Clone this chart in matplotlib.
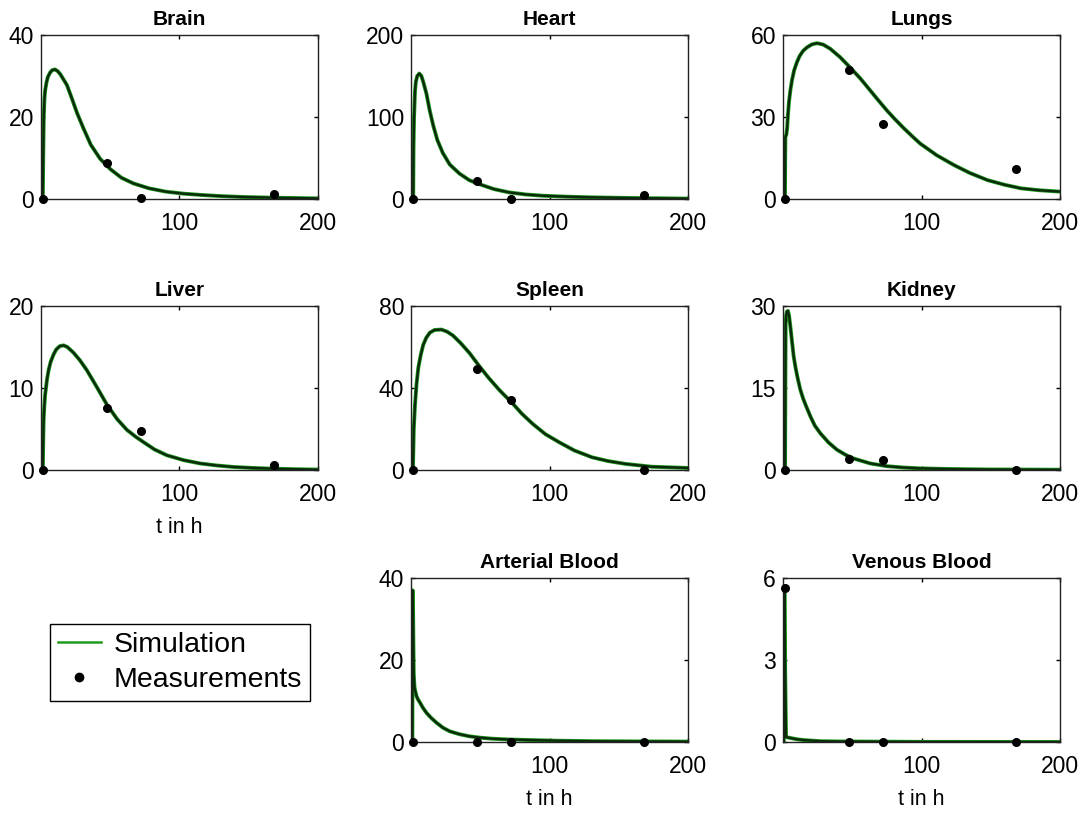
import numpy as np
import matplotlib.pyplot as plt
from matplotlib.lines import Line2D

plt.rcParams["font.family"] = ["Liberation Sans", "DejaVu Sans"]

# measurement times (h)
t_meas = [1.5, 48, 72, 168]

# --- simulated curves ---
t_brain = [1.3, 1.6, 2.0, 2.5, 3.0, 4.0, 5.0, 6.5, 8.0, 10, 12, 14, 16, 18.7, 22, 26, 30.7, 36, 42.7, 50, 58, 66.7, 78, 90, 103, 115, 130, 145, 163, 180, 200]
y_brain = [0, 10, 20, 24.5, 26.5, 28.5, 29.8, 30.8, 31.4, 31.6, 31.2, 30.4, 29.3, 27.8, 24.8, 21, 17.2, 13.2, 9.8, 7.3, 5.2, 3.8, 2.6, 1.8, 1.3, 1.0, 0.7, 0.5, 0.35, 0.25, 0.15]
m_brain = [0, 8.9, 0.2, 1.3]

t_heart = [1.6, 1.8, 2.2, 2.9, 3.5, 4.5, 6.0, 7.5, 9.0, 11.2, 13.5, 16, 19, 23, 28, 35, 42, 49.5, 60, 71, 83, 95, 113, 131, 160, 200]
y_heart = [0, 60, 100, 132, 143, 150, 153, 150, 142, 128, 108, 90, 72, 56, 42, 31, 23, 18, 12, 8, 5.5, 4, 2.8, 2, 1.2, 0.5]
m_heart = [0, 22, 0.5, 4.5]

t_lungs = [1.4, 1.7, 2.4, 3.0, 3.6, 4.3, 5.3, 6.5, 8.0, 10, 12, 14.5, 17.4, 21, 24.6, 29, 34, 41, 48.7, 56, 63, 69, 75, 81, 87, 93, 99, 111, 123.5, 135, 147.7, 160, 171.8, 185, 200]
y_lungs = [0, 22.7, 23.5, 26, 31, 35.5, 39.7, 43.5, 47, 50, 52.3, 54.2, 55.5, 56.6, 57, 56.5, 55, 52, 48, 44, 39.7, 36, 32.4, 29.1, 26, 23.1, 20.3, 16, 12.4, 9.5, 6.9, 5.2, 3.9, 3.2, 2.7]
m_lungs = [0, 47.3, 27.3, 10.8]

t_liver = [1.3, 1.6, 1.9, 2.4, 3.0, 4.3, 5.5, 7.0, 9.1, 11, 13.5, 16.3, 19, 23.5, 28, 33, 40, 47.5, 55, 62, 68, 74, 82, 90.8, 103, 114.8, 127, 139, 153, 167.6, 183, 200]
y_liver = [0, 3.5, 6.1, 7.8, 9.2, 11, 12.2, 13.2, 14.1, 14.7, 15.1, 15.2, 15.0, 14.3, 13.4, 12.2, 10.2, 8.0, 6.2, 4.9, 4.1, 3.4, 2.5, 1.8, 1.2, 0.8, 0.55, 0.37, 0.25, 0.16, 0.1, 0.05]
m_liver = [0, 7.6, 4.8, 0.6]

t_spleen = [1.4, 2.0, 2.9, 4.0, 5.3, 7.0, 8.8, 11, 13.6, 17, 22, 26, 30.3, 36, 42.3, 49.5, 56, 63.8, 73.3, 80, 87.7, 97, 106.8, 118, 130.7, 142, 154.6, 173.7, 200]
y_spleen = [0, 20, 32, 42, 50, 56, 61, 64.5, 67, 68.3, 68.5, 67.5, 65.6, 61.8, 57, 50.5, 45, 39, 32.5, 27.5, 22.6, 17.5, 13.6, 9.5, 6.2, 4.4, 3.0, 1.6, 1.0]
m_spleen = [0, 49.5, 34, 0.2]

t_kidney = [1.5, 1.7, 1.9, 2.3, 2.8, 3.6, 4.4, 5.3, 6.5, 7.7, 9.0, 10.5, 12.5, 14.5, 16.5, 19.8, 23, 27, 33, 39, 45, 51, 63, 75, 87, 99, 120, 148, 200]
y_kidney = [0, 15, 26.5, 28.3, 29.0, 29.1, 28.2, 26.3, 23.5, 20.8, 18.8, 16.9, 14.7, 13.1, 11.8, 9.8, 8.1, 6.7, 5.0, 3.7, 2.8, 2.1, 1.2, 0.7, 0.45, 0.3, 0.18, 0.1, 0.05]
m_kidney = [0, 2.1, 1.9, 0]

t_art = [1.0, 1.2, 1.5, 1.8, 2.0, 2.5, 3.0, 4.0, 5.0, 6.5, 8.5, 11.2, 14.5, 18.4, 23, 28, 35, 42, 50, 59, 70, 83, 105, 131, 165, 200]
y_art = [0, 37.0, 32, 22, 16.5, 13.5, 12.5, 11.2, 10.4, 9.6, 8.4, 7.1, 5.9, 4.7, 3.5, 2.6, 1.9, 1.4, 1.05, 0.8, 0.62, 0.5, 0.32, 0.2, 0.14, 0.1]
m_art = [0, 0, 0, 0]

t_ven = [0.6, 1.0, 1.6, 2.2, 5.0, 10, 15, 27, 40, 100, 200]
y_ven = [0, 5.55, 2.5, 0.18, 0.15, 0.1, 0.07, 0.03, 0.02, 0.005, 0.0]
m_ven = [5.65, 0, 0, 0]

titles = ["Brain", "Heart", "Lungs", "Liver", "Spleen", "Kidney", "Arterial Blood", "Venous Blood"]
t_sims = [t_brain, t_heart, t_lungs, t_liver, t_spleen, t_kidney, t_art, t_ven]
y_sims = [y_brain, y_heart, y_lungs, y_liver, y_spleen, y_kidney, y_art, y_ven]
meas = [m_brain, m_heart, m_lungs, m_liver, m_spleen, m_kidney, m_art, m_ven]
ymax = [40, 200, 60, 20, 80, 30, 40, 6]
# grid cell (row, col) of each panel
cells = [(0, 0), (0, 1), (0, 2), (1, 0), (1, 1), (1, 2), (2, 1), (2, 2)]
with_xlabel = ["Liver", "Arterial Blood", "Venous Blood"]

W, H = 1084, 816
col_left = [41, 411, 783]
row_bottom = [199, 470, 742]
aw, ah = 277, 164

green = "#1f9a1f"

fig = plt.figure(figsize=(W / 100, H / 100), dpi=100)

for k in range(len(titles)):
    r, c = cells[k]
    ax = fig.add_axes([col_left[c] / W, 1 - row_bottom[r] / H, aw / W, ah / H])
    ax.plot(t_sims[k], y_sims[k], color=green, lw=2.8, solid_capstyle="butt")
    ax.plot(t_sims[k], y_sims[k], color="#0b2a0b", lw=1.7)
    ax.plot(t_meas, meas[k], "o", color="black", ms=5.5, clip_on=False, zorder=5)
    ax.set_xlim(0, 200)
    ax.set_ylim(0, ymax[k])
    ax.set_xticks([100, 200])
    ax.set_yticks([0, ymax[k] / 2, ymax[k]])
    ax.set_yticklabels(["0", "%g" % (ymax[k] / 2), "%g" % ymax[k]])
    ax.tick_params(direction="in", length=3, width=1, top=True, right=True,
                   labelsize=16.5, pad=5)
    ax.tick_params(axis="x", pad=9.5)
    for s in ax.spines.values():
        s.set_linewidth(1.0)
        s.set_color("#222222")
    ax.set_title(titles[k], fontsize=15, fontweight="bold", pad=7)
    if titles[k] in with_xlabel:
        ax.set_xlabel("t in h", fontsize=15.5, labelpad=8)

handles = [
    Line2D([], [], color=green, lw=1.8),
    Line2D([], [], ls="none", marker="o", color="black", ms=6),
]
leg = fig.legend(handles, ["Simulation", "Measurements"], loc="upper left",
                 bbox_to_anchor=(50 / W, 1 - 624 / H), borderaxespad=0,
                 fontsize=20.5, fancybox=False, edgecolor="black",
                 handlelength=1.5, handletextpad=0.45, borderpad=0.28,
                 labelspacing=0.33, framealpha=1)
leg.get_frame().set_linewidth(1.0)

fig.savefig("out.png", dpi=100)
